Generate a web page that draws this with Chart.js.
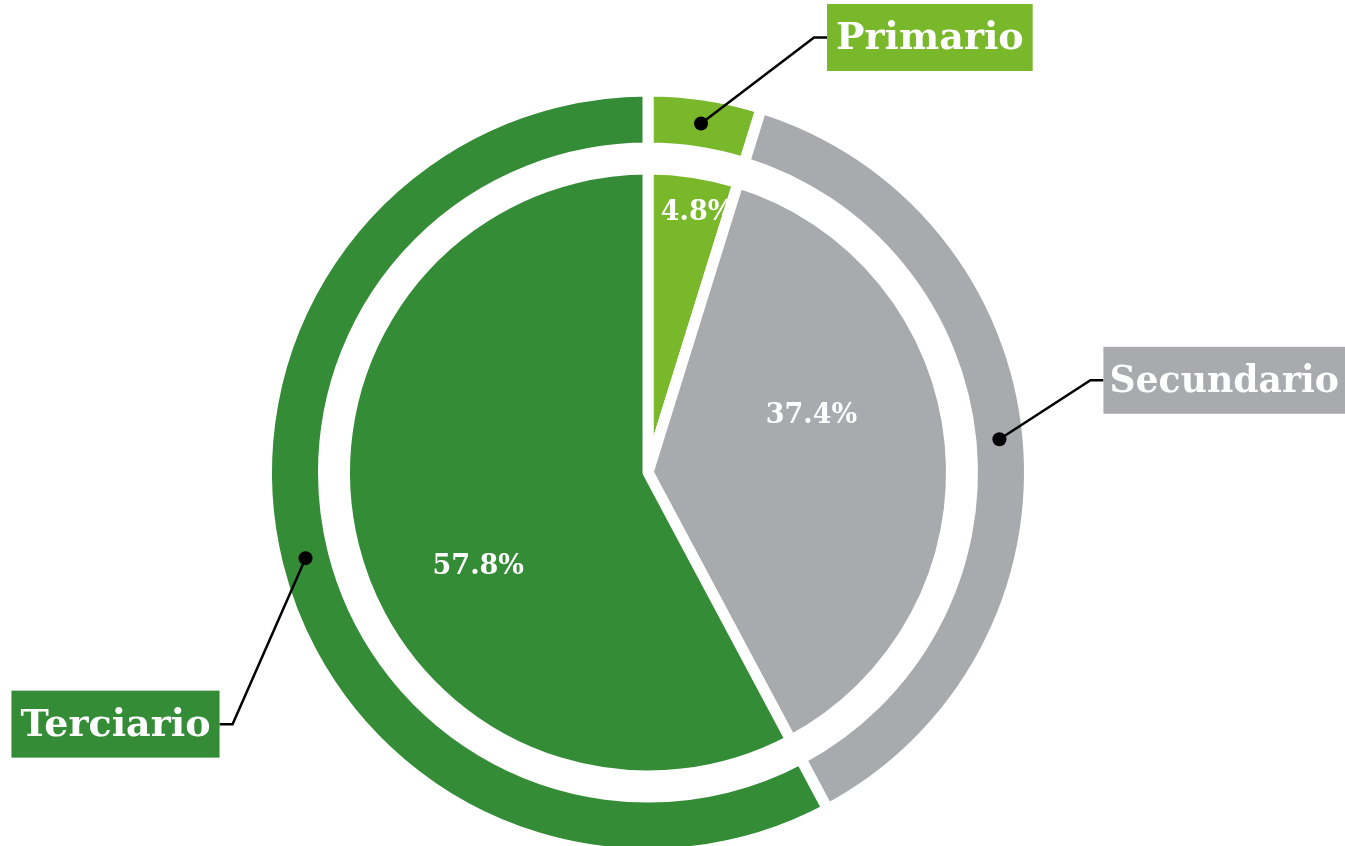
<!DOCTYPE html>
<html>
<head>
<meta charset="utf-8">
<script src="https://cdn.jsdelivr.net/npm/chart.js@4.4.1/dist/chart.umd.min.js"></script>
<style>
  html, body { margin: 0; padding: 0; background: #fff; overflow: hidden; }
  #chart { position: absolute; left: 0; top: 0; }
</style>
</head>
<body>
<canvas id="chart" width="1345" height="880"></canvas>
<script>
// data
const sectors = ['Primario', 'Secundario', 'Terciario'];
const shares = [4.8, 37.4, 57.8];
const shareLabels = ['4.8%', '37.4%', '57.8%'];

const colors = ['#78B82A', '#A9AAAD', '#348C37'];
const labelFont = 'bold 38px "DejaVu Serif"';
const pctFont = 'bold 27px "DejaVu Serif"';

// where the % labels sit inside the pie: angle (deg, clockwise from top), fraction of radius
const pctSpots = [[10.7, 0.87], [70.8, 0.57], [240.9, 0.64]];
// callouts: elbow offset from the dot, stub direction
const callouts = [
    { dx: 113, dy: -86, side: 1 },
    { dx: 91, dy: -59, side: 1 },
    { dx: -73, dy: 166, side: -1 },
];

const calloutPlugin = {
    id: 'callouts',
    afterDatasetsDraw(chart) {
        const ctx = chart.ctx;
        // percentage labels on the pie
        const pie = chart.getDatasetMeta(2).data;
        ctx.save();
        ctx.font = pctFont;
        ctx.fillStyle = '#fff';
        ctx.textAlign = 'center';
        ctx.textBaseline = 'middle';
        pie.forEach((arc, i) => {
            const a = pctSpots[i][0] * Math.PI / 180;
            const r = arc.outerRadius * pctSpots[i][1];
            ctx.fillText(shareLabels[i], arc.x + Math.sin(a) * r, arc.y - Math.cos(a) * r);
        });

        // outer ring dots + boxes
        const ring = chart.getDatasetMeta(0).data;
        ring.forEach((arc, i) => {
            const p = arc.tooltipPosition();
            const c = callouts[i];
            const ex = p.x + c.dx, ey = p.y + c.dy;
            const sx = ex + 13 * c.side;

            ctx.strokeStyle = '#000';
            ctx.lineWidth = 2.5;
            ctx.beginPath();
            ctx.moveTo(p.x, p.y);
            ctx.lineTo(ex, ey);
            ctx.lineTo(sx, ey);
            ctx.stroke();

            ctx.fillStyle = '#000';
            ctx.beginPath();
            ctx.arc(p.x, p.y, 7, 0, Math.PI * 2);
            ctx.fill();

            ctx.font = labelFont;
            let w = ctx.measureText(sectors[i]).width + 18;
            if (c.side > 0) w = Math.min(w, chart.width - sx); // keep box on the page
            const h = 67;
            const bx = c.side > 0 ? sx : sx - w;
            ctx.fillStyle = colors[i];
            ctx.fillRect(bx, ey - h / 2, w, h);
            ctx.fillStyle = '#fff';
            ctx.textAlign = 'center';
            ctx.textBaseline = 'middle';
            ctx.fillText(sectors[i], bx + w / 2, ey + 2, w - 12);
        });
        ctx.restore();
    }
};

new Chart(document.getElementById('chart'), {
    type: 'doughnut',
    data: {
        labels: sectors,
        datasets: [
            { data: shares, backgroundColor: colors, borderColor: '#fff', borderWidth: 11, weight: 57 },
            { data: [1], backgroundColor: 'rgba(0,0,0,0)', borderWidth: 0, weight: 21 },
            { data: shares, backgroundColor: colors, borderColor: '#fff', borderWidth: 11, weight: 303.5 },
        ]
    },
    options: {
        responsive: false,
        animation: false,
        events: [],
        cutout: 0,
        layout: { padding: { left: 261, right: 310, top: 85.5, bottom: 20.5 } },
        plugins: { legend: { display: false }, tooltip: { enabled: false } }
    },
    plugins: [calloutPlugin]
});
</script>
</body>
</html>
